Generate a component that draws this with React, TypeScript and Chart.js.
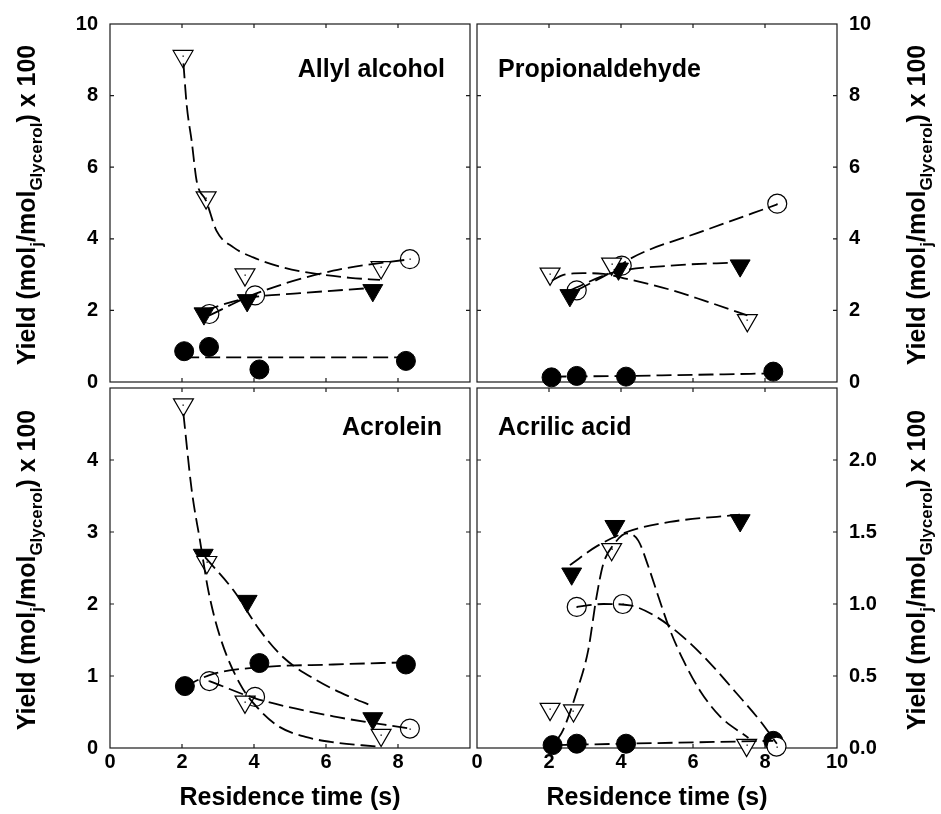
import React, { useEffect, useRef } from 'react';
import { Chart, registerables } from 'chart.js';
Chart.register(...registerables);

const W = 941;
const H = 814;
const FONT = '"Liberation Sans", Arial, Helvetica, sans-serif';

// ---------- Allyl alcohol ----------
const allylFilledCircleX = [2.06, 2.75, 4.15, 8.22];
const allylFilledCircleY = [0.86, 0.98, 0.35, 0.59];
const allylOpenCircleX = [2.76, 4.03, 8.33];
const allylOpenCircleY = [1.9, 2.42, 3.43];
const allylFilledTriX = [2.61, 3.81, 7.3];
const allylFilledTriY = [1.91, 2.28, 2.56];
const allylOpenTriX = [2.03, 2.67, 3.75, 7.53];
const allylOpenTriY = [9.1, 5.15, 3.0, 3.2];
const allylFitFilledCircleX = [2.06, 8.22];
const allylFitFilledCircleY = [0.69, 0.69];
const allylFitOpenCircleX = [2.76, 4.03, 6.2, 8.33];
const allylFitOpenCircleY = [1.86, 2.46, 3.11, 3.43];
const allylFitFilledTriX = [2.61, 3.8, 5.28, 7.3];
const allylFitFilledTriY = [2.0, 2.34, 2.48, 2.63];
const allylFitOpenTriX = [2.04, 2.13, 2.27, 2.41, 2.67, 2.96, 3.43, 3.98, 4.81, 5.74, 6.67, 7.5];
const allylFitOpenTriY = [8.9, 7.74, 6.72, 5.6, 5.06, 4.22, 3.76, 3.48, 3.2, 3.02, 2.91, 2.85];

// ---------- Propionaldehyde ----------
const propFilledCircleX = [2.07, 2.77, 4.14, 8.23];
const propFilledCircleY = [0.13, 0.17, 0.15, 0.29];
const propOpenCircleX = [2.77, 4.02, 8.34];
const propOpenCircleY = [2.56, 3.25, 4.98];
const propFilledTriX = [2.58, 3.93, 7.31];
const propFilledTriY = [2.42, 3.16, 3.25];
const propOpenTriX = [2.03, 3.74, 7.51];
const propOpenTriY = [3.02, 3.3, 1.72];
const propFitFilledCircleX = [2.07, 4.14, 8.23];
const propFitFilledCircleY = [0.15, 0.17, 0.24];
const propFitOpenCircleX = [2.77, 3.79, 4.25, 6.29, 8.34];
const propFitOpenCircleY = [2.56, 3.11, 3.44, 4.22, 4.96];
const propFitFilledTriX = [2.58, 3.79, 5.36, 7.31];
const propFitFilledTriY = [2.56, 3.06, 3.25, 3.34];
const propFitOpenTriX = [2.08, 2.4, 2.95, 3.51, 4.16, 5.36, 6.29, 7.51];
const propFitOpenTriY = [2.83, 2.99, 3.04, 3.02, 2.88, 2.58, 2.28, 1.86];

// ---------- Acrolein ----------
const acroFilledCircleX = [2.08, 4.15, 8.22];
const acroFilledCircleY = [0.86, 1.18, 1.16];
const acroOpenCircleX = [2.76, 4.03, 8.33];
const acroOpenCircleY = [0.93, 0.71, 0.27];
const acroFilledTriX = [2.59, 3.81, 7.3];
const acroFilledTriY = [2.68, 2.04, 0.41];
const acroOpenTriX = [2.04, 2.69, 3.75, 7.53];
const acroOpenTriY = [4.77, 2.58, 0.64, 0.18];
const acroFitFilledCircleX = [2.08, 2.87, 4.15, 6.2, 8.22];
const acroFitFilledCircleY = [0.86, 1.03, 1.12, 1.16, 1.19];
const acroFitOpenCircleX = [2.76, 4.03, 6.2, 8.33];
const acroFitOpenCircleY = [0.93, 0.69, 0.44, 0.27];
const acroFitFilledTriX = [2.64, 3.43, 4.17, 4.81, 5.74, 6.67, 7.31];
const acroFitFilledTriY = [2.65, 2.19, 1.63, 1.26, 0.94, 0.71, 0.58];
const acroFitOpenTriX = [2.04, 2.27, 2.5, 2.73, 3.06, 3.61, 4.17, 4.72, 5.46, 6.2, 7.4];
const acroFitOpenTriY = [4.64, 3.58, 2.88, 2.19, 1.54, 0.89, 0.52, 0.29, 0.15, 0.08, 0.02];

// ---------- Acrilic acid ----------
const acryFilledCircleX = [2.1, 2.77, 4.14, 8.23];
const acryFilledCircleY = [0.02, 0.03, 0.03, 0.05];
const acryOpenCircleX = [2.77, 4.05, 8.32];
const acryOpenCircleY = [0.98, 1.0, 0.01];
const acryFilledTriX = [2.63, 3.83, 7.31];
const acryFilledTriY = [1.21, 1.54, 1.58];
const acryOpenTriX = [2.03, 2.68, 3.74, 7.49];
const acryOpenTriY = [0.27, 0.26, 1.38, 0.02];
const acryFitFilledCircleX = [2.1, 4.14, 8.23];
const acryFitFilledCircleY = [0.02, 0.03, 0.05];
const acryFitOpenCircleX = [2.77, 3.51, 4.25, 4.99, 5.73, 6.47, 7.21, 7.86, 8.33];
const acryFitOpenCircleY = [0.98, 1.0, 0.99, 0.91, 0.77, 0.59, 0.38, 0.19, 0.03];
const acryFitFilledTriX = [2.58, 3.32, 4.16, 5.36, 7.31];
const acryFitFilledTriY = [1.27, 1.4, 1.5, 1.57, 1.62];
const acryFitOpenTriX = [2.21, 2.4, 2.77, 3.09, 3.32, 3.51, 3.79, 4.16, 4.48, 4.76, 5.04, 5.36, 5.73, 6.19, 6.75, 7.54];
const acryFitOpenTriY = [0.05, 0.13, 0.39, 0.68, 1.05, 1.28, 1.41, 1.49, 1.44, 1.26, 1.05, 0.82, 0.61, 0.4, 0.22, 0.07];

// ---------- axis ticks / labels ----------
const xTicks = [0, 2, 4, 6, 8, 10];
const topYTicks = [0, 2, 4, 6, 8, 10];
const acroYTicks = [0, 1, 2, 3, 4, 5];
const acryYTicks = [0, 0.5, 1.0, 1.5, 2.0, 2.5];
const panelTitles = ['Allyl alcohol', 'Propionaldehyde', 'Acrolein', 'Acrilic acid'];
const xTitle = 'Residence time (s)';
const yTitleParts: [string, boolean][] = [
  ['Yield (mol', false],
  ['j', true],
  ['/mol', false],
  ['Glycerol', true],
  [') x 100', false],
];

const P = (xs: number[], ys: number[]) => xs.map((x, i) => ({ x, y: ys[i] }));

function buildDatasets(m: any) {
  const fit = (xs: number[], ys: number[]) => ({
    data: P(xs, ys),
    showLine: true,
    pointRadius: 0,
    borderColor: '#000',
    borderWidth: 1.8,
    borderDash: [15, 6],
    cubicInterpolationMode: 'monotone',
    fill: false,
    clip: false,
    order: 0,
  });
  return [
    {
      data: P(m.fcX, m.fcY), pointStyle: 'circle', pointRadius: 9.5,
      backgroundColor: '#000', borderColor: '#000', borderWidth: 1, clip: false, order: 5,
    },
    {
      data: P(m.ocX, m.ocY), pointStyle: 'circle', pointRadius: 9.5,
      backgroundColor: '#fff', borderColor: '#000', borderWidth: 1.2, clip: false, order: 4, dot: true,
    },
    {
      data: P(m.ftX, m.ftY), pointStyle: 'triangle', pointRotation: 180, pointRadius: 11.5,
      backgroundColor: '#000', borderColor: '#000', borderWidth: 1, clip: false, order: 3,
    },
    {
      data: P(m.otX, m.otY), pointStyle: 'triangle', pointRotation: 180, pointRadius: 11.5,
      backgroundColor: '#fff', borderColor: '#000', borderWidth: 1.2, clip: false, order: 2, dot: true,
    },
    fit(m.ffcX, m.ffcY),
    fit(m.focX, m.focY),
    fit(m.fftX, m.fftY),
    fit(m.fotX, m.fotY),
  ];
}

function drawYTitle(ctx: CanvasRenderingContext2D, bx: number, cy: number) {
  const mainFont = `bold 25px ${FONT}`;
  const subFont = `bold 17px ${FONT}`;
  let total = 0;
  const widths = yTitleParts.map(([t, sub]) => {
    ctx.font = sub ? subFont : mainFont;
    const w = ctx.measureText(t).width;
    total += w;
    return w;
  });
  ctx.save();
  ctx.translate(bx, cy);
  ctx.rotate(-Math.PI / 2);
  ctx.fillStyle = '#000';
  ctx.textAlign = 'left';
  ctx.textBaseline = 'alphabetic';
  let x = -total / 2;
  yTitleParts.forEach(([t, sub], i) => {
    ctx.font = sub ? subFont : mainFont;
    ctx.fillText(t, x, sub ? 7 : 0);
    x += widths[i];
  });
  ctx.restore();
}

const panelPlugin = {
  id: 'panel',
  beforeDatasetsDraw(chart: any) {
    const { ctx, chartArea: a } = chart;
    const xs = chart.scales.x;
    const ys = chart.scales.y;
    const TL = 4;
    ctx.save();
    ctx.strokeStyle = '#1a1a1a';
    ctx.lineWidth = 1.2;
    ctx.strokeRect(a.left, a.top, a.right - a.left, a.bottom - a.top);
    ctx.beginPath();
    xs.ticks.forEach((t: any) => {
      const p = xs.getPixelForValue(t.value);
      if (p <= a.left + 1 || p >= a.right - 1) return;
      ctx.moveTo(p, a.bottom); ctx.lineTo(p, a.bottom - TL);
      ctx.moveTo(p, a.top); ctx.lineTo(p, a.top + TL);
    });
    ys.ticks.forEach((t: any) => {
      const p = ys.getPixelForValue(t.value);
      if (p <= a.top + 1 || p >= a.bottom - 1) return;
      ctx.moveTo(a.left, p); ctx.lineTo(a.left + TL, p);
      ctx.moveTo(a.right, p); ctx.lineTo(a.right - TL, p);
    });
    ctx.stroke();
    ctx.restore();
  },
  afterDatasetsDraw(chart: any, _args: any, opts: any) {
    const { ctx, chartArea: a } = chart;
    ctx.save();
    ctx.fillStyle = '#000';
    chart.data.datasets.forEach((ds: any, i: number) => {
      if (!ds.dot) return;
      const meta = chart.getDatasetMeta(i);
      meta.data.forEach((el: any) => {
        ctx.fillRect(Math.round(el.x) - 0.5, Math.round(el.y) - 0.5, 1.3, 1.3);
      });
    });
    ctx.font = `bold 25px ${FONT}`;
    ctx.textBaseline = 'alphabetic';
    if (opts.align === 'right') {
      ctx.textAlign = 'right';
      ctx.fillText(opts.label, a.right - opts.dx, a.top + opts.dy);
    } else {
      ctx.textAlign = 'left';
      ctx.fillText(opts.label, a.left + opts.dx, a.top + opts.dy);
    }
    ctx.restore();
    drawYTitle(ctx, opts.titleX, (a.top + a.bottom) / 2 + 2);
  },
};

type Spec = {
  area: { left: number; top: number; right: number; bottom: number };
  yPos: 'left' | 'right';
  yTicks: number[];
  yLabel: (v: number) => string;
  showX: boolean;
  xLabel: (v: number) => string;
  label: string;
  align: 'left' | 'right';
  dx: number;
  dy: number;
  titleX: number;
  m: any;
};

const specs: Spec[] = [
  {
    area: { left: 110, top: 22, right: 470, bottom: 382 },
    yPos: 'left', yTicks: topYTicks, yLabel: (v) => String(v),
    showX: false, xLabel: (v) => String(v),
    label: panelTitles[0], align: 'right', dx: 25, dy: 53, titleX: 35,
    m: {
      fcX: allylFilledCircleX, fcY: allylFilledCircleY, ocX: allylOpenCircleX, ocY: allylOpenCircleY,
      ftX: allylFilledTriX, ftY: allylFilledTriY, otX: allylOpenTriX, otY: allylOpenTriY,
      ffcX: allylFitFilledCircleX, ffcY: allylFitFilledCircleY, focX: allylFitOpenCircleX, focY: allylFitOpenCircleY,
      fftX: allylFitFilledTriX, fftY: allylFitFilledTriY, fotX: allylFitOpenTriX, fotY: allylFitOpenTriY,
    },
  },
  {
    area: { left: 477, top: 22, right: 837, bottom: 382 },
    yPos: 'right', yTicks: topYTicks, yLabel: (v) => String(v),
    showX: false, xLabel: (v) => String(v),
    label: panelTitles[1], align: 'left', dx: 21, dy: 53, titleX: 925,
    m: {
      fcX: propFilledCircleX, fcY: propFilledCircleY, ocX: propOpenCircleX, ocY: propOpenCircleY,
      ftX: propFilledTriX, ftY: propFilledTriY, otX: propOpenTriX, otY: propOpenTriY,
      ffcX: propFitFilledCircleX, ffcY: propFitFilledCircleY, focX: propFitOpenCircleX, focY: propFitOpenCircleY,
      fftX: propFitFilledTriX, fftY: propFitFilledTriY, fotX: propFitOpenTriX, fotY: propFitOpenTriY,
    },
  },
  {
    area: { left: 110, top: 388, right: 470, bottom: 748 },
    yPos: 'left', yTicks: acroYTicks, yLabel: (v) => (v === 5 ? '' : String(v)),
    showX: true, xLabel: (v) => (v === 10 ? '' : String(v)),
    label: panelTitles[2], align: 'right', dx: 28, dy: 47, titleX: 35,
    m: {
      fcX: acroFilledCircleX, fcY: acroFilledCircleY, ocX: acroOpenCircleX, ocY: acroOpenCircleY,
      ftX: acroFilledTriX, ftY: acroFilledTriY, otX: acroOpenTriX, otY: acroOpenTriY,
      ffcX: acroFitFilledCircleX, ffcY: acroFitFilledCircleY, focX: acroFitOpenCircleX, focY: acroFitOpenCircleY,
      fftX: acroFitFilledTriX, fftY: acroFitFilledTriY, fotX: acroFitOpenTriX, fotY: acroFitOpenTriY,
    },
  },
  {
    area: { left: 477, top: 388, right: 837, bottom: 748 },
    yPos: 'right', yTicks: acryYTicks, yLabel: (v) => (v === 2.5 ? '' : v.toFixed(1)),
    showX: true, xLabel: (v) => String(v),
    label: panelTitles[3], align: 'left', dx: 21, dy: 47, titleX: 925,
    m: {
      fcX: acryFilledCircleX, fcY: acryFilledCircleY, ocX: acryOpenCircleX, ocY: acryOpenCircleY,
      ftX: acryFilledTriX, ftY: acryFilledTriY, otX: acryOpenTriX, otY: acryOpenTriY,
      ffcX: acryFitFilledCircleX, ffcY: acryFitFilledCircleY, focX: acryFitOpenCircleX, focY: acryFitOpenCircleY,
      fftX: acryFitFilledTriX, fftY: acryFitFilledTriY, fotX: acryFitOpenTriX, fotY: acryFitOpenTriY,
    },
  },
];

function makeConfig(s: Spec): any {
  const a = s.area;
  const tickFont = { family: FONT, size: 20, weight: 'bold' };
  const yMin = s.yTicks[0];
  const yMax = s.yTicks[s.yTicks.length - 1];
  return {
    type: 'scatter',
    data: { datasets: buildDatasets(s.m) },
    plugins: [panelPlugin],
    options: {
      responsive: false,
      animation: false,
      devicePixelRatio: 1,
      events: [],
      layout: {
        padding: {
          left: s.yPos === 'left' ? 0 : a.left,
          right: s.yPos === 'left' ? W - a.right : 0,
          top: a.top,
          bottom: 0,
        },
      },
      plugins: {
        legend: { display: false },
        tooltip: { enabled: false },
        panel: { label: s.label, align: s.align, dx: s.dx, dy: s.dy, titleX: s.titleX },
      },
      scales: {
        x: {
          type: 'linear',
          position: 'bottom',
          min: xTicks[0],
          max: xTicks[xTicks.length - 1],
          afterBuildTicks: (sc: any) => { sc.ticks = xTicks.map((v) => ({ value: v })); },
          ticks: {
            display: s.showX,
            font: tickFont,
            color: '#000',
            padding: 2,
            autoSkip: false,
            maxRotation: 0,
            callback: (v: any) => s.xLabel(Number(v)),
          },
          grid: { display: false, drawTicks: false },
          border: { display: false },
          title: {
            display: s.showX,
            text: xTitle,
            color: '#000',
            font: { family: FONT, size: 25, weight: 'bold' },
            padding: { top: 0, bottom: 1 },
          },
          afterFit: (sc: any) => { sc.height = H - a.bottom; },
        },
        y: {
          type: 'linear',
          position: s.yPos,
          min: yMin,
          max: yMax,
          afterBuildTicks: (sc: any) => { sc.ticks = s.yTicks.map((v) => ({ value: v })); },
          ticks: {
            font: tickFont,
            color: '#000',
            padding: 12,
            autoSkip: false,
            callback: (v: any) => s.yLabel(Number(v)),
          },
          grid: { display: false, drawTicks: false },
          border: { display: false },
          afterFit: (sc: any) => { sc.width = s.yPos === 'left' ? a.left : W - a.right; },
        },
      },
    },
  };
}

function PanelCanvas({ spec }: { spec: Spec }) {
  const ref = useRef<HTMLCanvasElement | null>(null);
  useEffect(() => {
    if (!ref.current) return;
    const chart = new Chart(ref.current, makeConfig(spec));
    return () => chart.destroy();
  }, [spec]);
  return (
    <canvas
      ref={ref}
      width={W}
      height={H}
      style={{ position: 'absolute', left: 0, top: 0, width: W, height: H }}
    />
  );
}

export default function App() {
  return (
    <div style={{ position: 'absolute', left: 0, top: 0, width: W, height: H, background: '#fff', overflow: 'hidden' }}>
      {specs.map((s, i) => (
        <PanelCanvas key={i} spec={s} />
      ))}
    </div>
  );
}
